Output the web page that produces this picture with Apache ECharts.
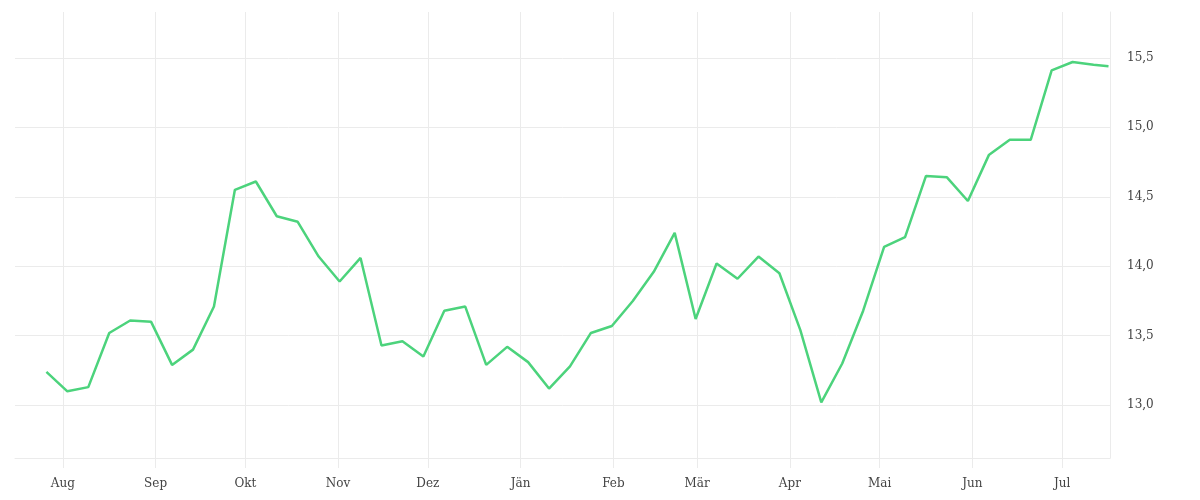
<!DOCTYPE html>
<html>
<head>
<meta charset="utf-8">
<script src="https://cdn.jsdelivr.net/npm/echarts@6/dist/echarts.min.js"></script>
<style>
  html, body { margin: 0; padding: 0; background: #fff; }
  #chart { width: 1200px; height: 500px; }
</style>
</head>
<body>
<div id="chart"></div>
<script>
// weekly values
const dates = [
  '2022-07-26 12:00', '2022-08-02 12:00', '2022-08-09 12:00', '2022-08-16 12:00',
  '2022-08-23 12:00', '2022-08-30 12:00', '2022-09-06 12:00', '2022-09-13 12:00',
  '2022-09-20 12:00', '2022-09-27 12:00', '2022-10-04 12:00', '2022-10-11 12:00',
  '2022-10-18 12:00', '2022-10-25 12:00', '2022-11-01 12:00', '2022-11-08 12:00',
  '2022-11-15 12:00', '2022-11-22 12:00', '2022-11-29 12:00', '2022-12-06 12:00',
  '2022-12-13 12:00', '2022-12-20 12:00', '2022-12-27 12:00', '2023-01-03 12:00',
  '2023-01-10 12:00', '2023-01-17 12:00', '2023-01-24 12:00', '2023-01-31 12:00',
  '2023-02-07 12:00', '2023-02-14 12:00', '2023-02-21 12:00', '2023-02-28 12:00',
  '2023-03-07 12:00', '2023-03-14 12:00', '2023-03-21 12:00', '2023-03-28 12:00',
  '2023-04-04 12:00', '2023-04-11 12:00', '2023-04-18 12:00', '2023-04-25 12:00',
  '2023-05-02 12:00', '2023-05-09 12:00', '2023-05-16 12:00', '2023-05-23 12:00',
  '2023-05-30 12:00', '2023-06-06 12:00', '2023-06-13 12:00', '2023-06-20 12:00',
  '2023-06-27 12:00', '2023-07-04 12:00', '2023-07-11 12:00', '2023-07-16 12:00'
];
const values = [
  13.24, 13.10, 13.13, 13.52, 13.61, 13.60, 13.29, 13.40,
  13.71, 14.55, 14.61, 14.36, 14.32, 14.07, 13.89, 14.06,
  13.43, 13.46, 13.35, 13.68, 13.71, 13.29, 13.42, 13.31,
  13.12, 13.28, 13.52, 13.57, 13.75, 13.96, 14.24, 13.62,
  14.02, 13.91, 14.07, 13.95, 13.54, 13.02, 13.30, 13.68,
  14.14, 14.21, 14.65, 14.64, 14.47, 14.80, 14.91, 14.91,
  15.41, 15.47, 15.45, 15.44
];
const monthNames = ['Jän', 'Feb', 'Mär', 'Apr', 'Mai', 'Jun', 'Jul', 'Aug', 'Sep', 'Okt', 'Nov', 'Dez'];

const gridColor = '#ebebeb';
const textColor = '#444';
const fontFamily = 'DejaVu Serif';

const myChart = echarts.init(document.getElementById('chart'));
const option = {
  animation: false,
  grid: { left: 15, right: 90, top: 12, bottom: 42, containLabel: false },
  xAxis: {
    type: 'time',
    min: '2022-07-16',
    max: '2023-07-17',
    splitNumber: 12,
    axisLine: { show: true, lineStyle: { color: gridColor, width: 1 } },
    axisTick: { show: true, length: 10, lineStyle: { color: gridColor } },
    splitLine: { show: true, showMinLine: false, lineStyle: { color: gridColor, width: 1 } },
    axisLabel: {
      color: textColor,
      fontFamily: fontFamily,
      fontSize: 12,
      margin: 20,
      formatter: v => monthNames[new Date(v).getMonth()]
    }
  },
  yAxis: {
    type: 'value',
    position: 'right',
    min: 12.62,
    max: 15.83,
    splitNumber: 5,
    axisLine: { show: true, lineStyle: { color: gridColor, width: 1 } },
    axisTick: { show: false },
    splitLine: { show: true, showMaxLine: false, lineStyle: { color: gridColor, width: 1 } },
    axisLabel: {
      color: textColor,
      fontFamily: fontFamily,
      fontSize: 12,
      margin: 17,
      padding: [4, 0, 0, 0],
      showMinLabel: false,
      showMaxLabel: false,
      formatter: v => v.toFixed(1).replace('.', ',')
    }
  },
  series: [
    {
      type: 'line',
      data: dates.map((d, i) => [d, values[i]]),
      symbol: 'none',
      lineStyle: { color: '#4cd37c', width: 2.5 },
      itemStyle: { color: '#4cd37c' }
    }
  ]
};
myChart.setOption(option);
</script>
</body>
</html>
